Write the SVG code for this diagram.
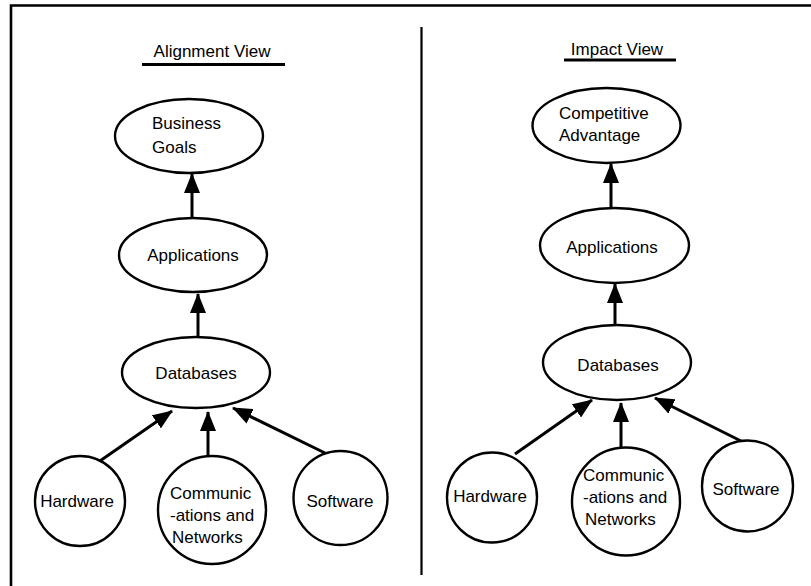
<svg xmlns="http://www.w3.org/2000/svg" width="811" height="586" viewBox="0 0 811 586">
  <style>
    .node { fill: #fff; stroke: #000; stroke-width: 2.4; }
    .lbl { font-family: "Liberation Sans", Arial, sans-serif; font-size: 17px; fill: #000; }
    .mid { text-anchor: middle; }
    .edge { stroke: #000; stroke-width: 3; fill: none; marker-end: url(#head); }
    .frame { stroke: #000; stroke-width: 2.6; fill: none; }
  </style>
  <defs>
    <marker id="head" markerUnits="userSpaceOnUse" markerWidth="20" markerHeight="16" refX="19" refY="8" orient="auto">
      <path d="M0,0 L20,8 L0,16 z" fill="#000"/>
    </marker>
  </defs>

  <rect width="811" height="586" fill="#fff"/>

  <!-- frame and column divider -->
  <g id="frame">
    <path class="frame" d="M11,590 V5.5 H815"/>
    <line x1="421.5" y1="27" x2="421.5" y2="575" stroke="#000" stroke-width="2.2"/>
  </g>

  <!-- column headings -->
  <g id="title-alignment">
    <text class="lbl mid" x="212" y="57">Alignment View</text>
    <line x1="142" y1="64.5" x2="285" y2="64.5" stroke="#000" stroke-width="3"/>
  </g>
  <g id="title-impact">
    <text class="lbl mid" x="617" y="55">Impact View</text>
    <line x1="564" y1="60" x2="676" y2="60" stroke="#000" stroke-width="3"/>
  </g>

  <!-- connectors -->
  <g id="connectors">
    <line class="edge" x1="192" y1="218" x2="192" y2="174"/>
    <line class="edge" x1="198" y1="337" x2="198" y2="294"/>
    <line class="edge" x1="97" y1="463" x2="172" y2="411"/>
    <line class="edge" x1="208" y1="456" x2="208" y2="412"/>
    <line class="edge" x1="325" y1="453" x2="233" y2="408"/>

    <line class="edge" x1="611" y1="208" x2="611" y2="164"/>
    <line class="edge" x1="615" y1="325" x2="615" y2="284"/>
    <line class="edge" x1="515" y1="454" x2="592" y2="400"/>
    <line class="edge" x1="621" y1="448" x2="621" y2="403"/>
    <line class="edge" x1="745" y1="443" x2="655" y2="398"/>
  </g>

  <!-- alignment view nodes -->
  <g id="business-goals">
    <ellipse class="node" cx="189" cy="136" rx="74" ry="37"/>
    <text class="lbl" x="152" y="129">Business</text>
    <text class="lbl" x="152" y="153">Goals</text>
  </g>
  <g id="applications-left">
    <ellipse class="node" cx="193" cy="255" rx="74" ry="37"/>
    <text class="lbl mid" x="193" y="261">Applications</text>
  </g>
  <g id="databases-left">
    <ellipse class="node" cx="196" cy="372.5" rx="74" ry="35.5"/>
    <text class="lbl mid" x="196" y="379">Databases</text>
  </g>
  <g id="hardware-left">
    <circle class="node" cx="80" cy="501" r="45"/>
    <text class="lbl mid" x="77" y="507">Hardware</text>
  </g>
  <g id="communications-left">
    <circle class="node" cx="212" cy="510" r="54"/>
    <text class="lbl" x="170" y="499">Communic</text>
    <text class="lbl" x="170" y="521">-ations and</text>
    <text class="lbl" x="172" y="543">Networks</text>
  </g>
  <g id="software-left">
    <circle class="node" cx="340.5" cy="498" r="47"/>
    <text class="lbl mid" x="340" y="507">Software</text>
  </g>

  <!-- impact view nodes -->
  <g id="competitive-advantage">
    <ellipse class="node" cx="606.5" cy="125.5" rx="74" ry="37.5"/>
    <text class="lbl" x="559" y="119">Competitive</text>
    <text class="lbl" x="559" y="141">Advantage</text>
  </g>
  <g id="applications-right">
    <ellipse class="node" cx="614.5" cy="245.5" rx="74.5" ry="37.5"/>
    <text class="lbl mid" x="612" y="253">Applications</text>
  </g>
  <g id="databases-right">
    <ellipse class="node" cx="617" cy="362.5" rx="74" ry="37.5"/>
    <text class="lbl mid" x="618" y="371">Databases</text>
  </g>
  <g id="hardware-right">
    <circle class="node" cx="492" cy="497.5" r="45"/>
    <text class="lbl mid" x="490" y="502">Hardware</text>
  </g>
  <g id="communications-right">
    <circle class="node" cx="626" cy="501.5" r="54"/>
    <text class="lbl" x="583" y="481">Communic</text>
    <text class="lbl" x="583" y="503">-ations and</text>
    <text class="lbl" x="585" y="525">Networks</text>
  </g>
  <g id="software-right">
    <circle class="node" cx="747.5" cy="486" r="45.5"/>
    <text class="lbl mid" x="746" y="495">Software</text>
  </g>
</svg>
